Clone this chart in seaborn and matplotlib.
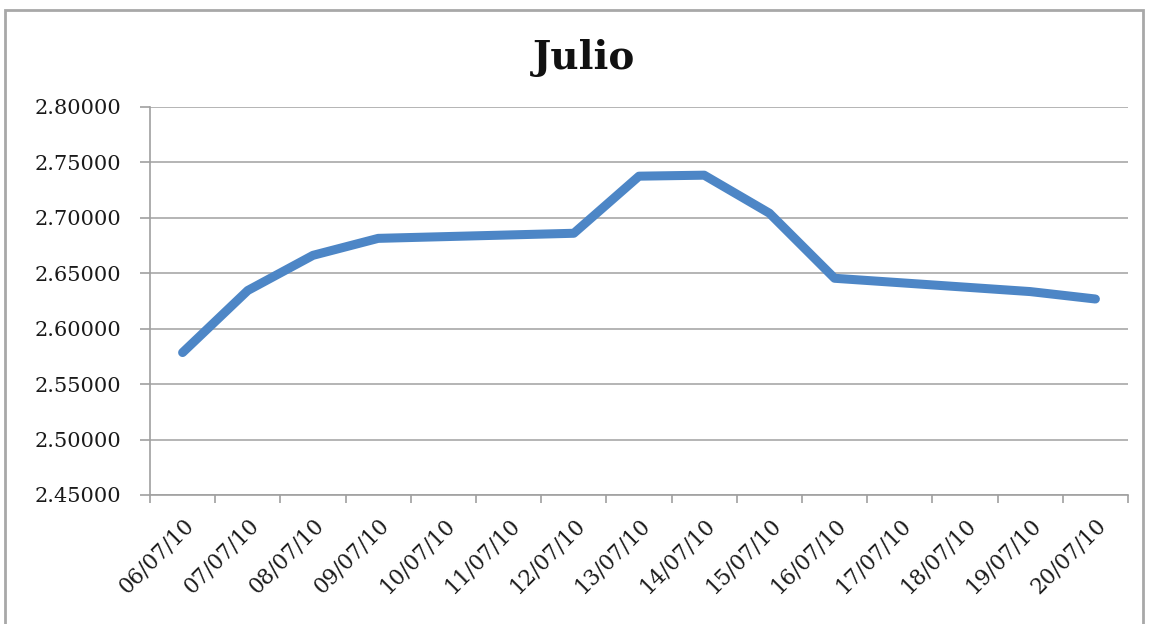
import matplotlib
matplotlib.use("Agg")
import matplotlib.pyplot as plt
import seaborn as sns
import numpy as np
import pandas as pd
from matplotlib.ticker import FixedLocator
from matplotlib.patches import Rectangle

# Data
categories = ["06/07/10", "07/07/10", "08/07/10", "09/07/10", "10/07/10",
              "11/07/10", "12/07/10", "13/07/10", "14/07/10", "15/07/10",
              "16/07/10", "17/07/10", "18/07/10", "19/07/10", "20/07/10"]
obs_dates = ["06/07/10", "07/07/10", "08/07/10", "09/07/10", "12/07/10",
             "13/07/10", "14/07/10", "15/07/10", "16/07/10", "19/07/10",
             "20/07/10"]
values = [2.5785, 2.6345, 2.6662, 2.6815, 2.6861, 2.7376, 2.7385, 2.7042,
          2.6455, 2.6335, 2.6268]
yticks = [2.45, 2.50, 2.55, 2.60, 2.65, 2.70, 2.75, 2.80]
title = "Julio"

sns.set_theme(style="white")
plt.rcParams['font.family'] = ['DejaVu Serif']

fig = plt.figure(figsize=(11.49, 6.24), dpi=100)
W, H = 1149, 624
ax = fig.add_axes([150 / W, 1 - 495 / H, (1128 - 150) / W, (495 - 107) / H])

df = pd.DataFrame({"pos": [categories.index(d) for d in obs_dates], "value": values})
sns.lineplot(data=df, x="pos", y="value", ax=ax, color="#4d86c6", linewidth=6.5,
             solid_capstyle="round", solid_joinstyle="round", sort=False)

ax.set_xlim(-0.5, len(categories) - 0.5)
ax.set_ylim(yticks[0], yticks[-1])
ax.set_yticks(yticks)
ax.set_yticklabels([f"{v:.5f}" for v in yticks], fontsize=15, color="#1a1a1a")
ax.set_xticks(range(len(categories)))
ax.set_xticklabels(categories, rotation=45, ha="right", rotation_mode="anchor",
                   fontsize=15.5, color="#1a1a1a")
ax.xaxis.set_minor_locator(FixedLocator(np.arange(-0.5, len(categories), 1.0)))
ax.tick_params(axis="x", which="major", length=0, pad=14)
ax.tick_params(axis="x", which="minor", length=6, color="#a0a0a0", width=1.2, direction="out", bottom=True)
ax.tick_params(axis="y", which="major", length=7, color="#a0a0a0", width=1.2, direction="out", left=True, pad=14)
ax.set_xlabel("")
ax.set_ylabel("")
ax.grid(axis="y", color="#a8a8a8", linewidth=1.2)
ax.grid(axis="x", visible=False)
for s in ["top", "right"]:
    ax.spines[s].set_visible(False)
for s in ["left", "bottom"]:
    ax.spines[s].set_color("#a0a0a0")
    ax.spines[s].set_linewidth(1.2)

fig.text(584 / W, 1 - 58 / H, title, ha="center", va="center", fontsize=28,
         fontweight="bold", color="#111111")

# outer chart frame
fig.patches.append(Rectangle((5 / W, -0.1), (1143 - 5) / W, 1 - 10 / H + 0.1,
                             transform=fig.transFigure, fill=False,
                             edgecolor="#a8a8a8", linewidth=2))

fig.savefig("out.png", dpi=100)
